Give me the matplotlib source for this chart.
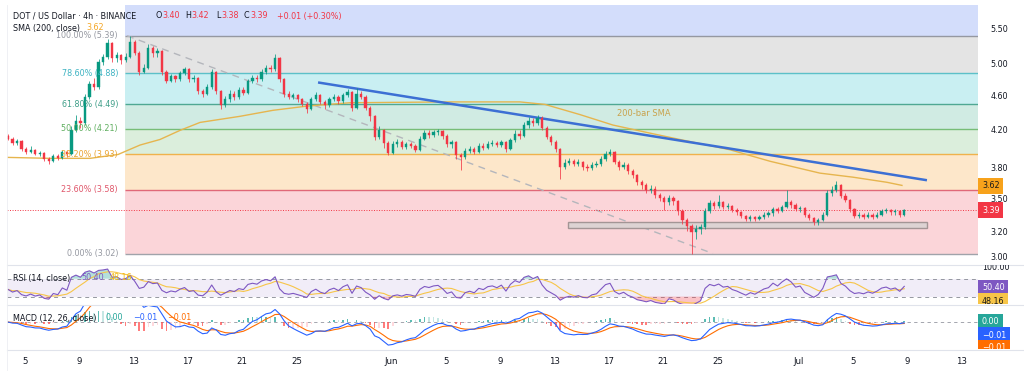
import numpy as np
import pandas as pd
import matplotlib
matplotlib.use("Agg")
import matplotlib.pyplot as plt
from matplotlib.patches import Rectangle
from matplotlib.lines import Line2D
from matplotlib.transforms import Bbox, TransformedBbox
from matplotlib.ticker import FixedLocator, FixedFormatter, NullLocator

plt.rcParams['font.family'] = ['DejaVu Sans']

W, H = 1024, 373

# ------------------------------------------------------------------ data
first_open = 4.13
closes = [4.10, 4.05, 4.07, 3.99, 3.96, 3.98, 3.94, 3.95, 3.88, 3.86,
          3.91, 3.89, 3.96, 3.93,
          4.20, 4.30, 4.27, 4.58, 4.74, 4.70, 5.02, 5.10, 5.28,
          5.08, 5.12, 5.05, 5.10, 5.30, 5.15, 4.90, 4.95,
          5.22, 5.15, 5.18, 4.90, 4.78, 4.84, 4.80, 4.88, 4.93,
          4.80, 4.82, 4.65, 4.62, 4.70, 4.90, 4.65, 4.48,
          4.55, 4.62, 4.58, 4.66, 4.63, 4.78, 4.82, 4.80, 4.90, 4.95, 4.93, 5.08,
          4.80, 4.62, 4.58, 4.60, 4.55, 4.50, 4.44,
          4.55, 4.60, 4.52, 4.48, 4.55, 4.58, 4.53, 4.60, 4.64, 4.45, 4.62, 4.58, 4.45, 4.35,
          4.12, 4.20, 4.05, 3.95, 4.04, 4.06, 4.01, 4.04, 4.02, 3.98,
          4.10, 4.16, 4.14, 4.17, 4.18, 4.13, 4.04, 4.06, 3.92, 3.90,
          3.97, 3.99, 3.96, 4.02, 4.00, 4.04, 4.05, 4.03, 4.06, 3.99,
          4.08, 4.15, 4.13, 4.25, 4.30, 4.27, 4.33, 4.22, 4.12, 4.06, 3.99,
          3.80, 3.84, 3.86, 3.83, 3.85, 3.80, 3.79, 3.82, 3.83, 3.88, 3.94, 3.96,
          3.85, 3.80, 3.82, 3.76, 3.72, 3.65, 3.62, 3.58, 3.59, 3.53, 3.50, 3.46,
          3.50, 3.47, 3.38, 3.30, 3.25, 3.20, 3.22, 3.24,
          3.38, 3.45, 3.43, 3.46, 3.42, 3.43, 3.39, 3.37, 3.34, 3.31, 3.33, 3.31, 3.33, 3.35, 3.36,
          3.40, 3.38, 3.42, 3.46, 3.44, 3.40, 3.41, 3.35, 3.32, 3.28, 3.30, 3.35,
          3.55, 3.58, 3.62, 3.52, 3.48, 3.40, 3.34, 3.35, 3.33, 3.35, 3.33, 3.35, 3.38, 3.39,
          3.37, 3.38, 3.35, 3.39]
highs = [4.15, 4.12, 4.09, 4.08, 4.01, 4.02, 3.99, 3.97, 3.96, 3.90,
         3.93, 3.94, 3.98, 3.97,
         4.24, 4.36, 4.34, 4.62, 4.78, 4.82, 5.06, 5.14, 5.34,
         5.30, 5.16, 5.14, 5.15, 5.39, 5.33, 5.17, 5.00,
         5.27, 5.24, 5.21, 5.19, 4.92, 4.87, 4.86, 4.91, 4.96,
         4.95, 4.86, 4.83, 4.68, 4.74, 4.93, 4.91, 4.67,
         4.59, 4.66, 4.65, 4.70, 4.70, 4.81, 4.86, 4.86, 4.94, 4.99, 4.99, 5.13,
         5.10, 4.82, 4.65, 4.63, 4.62, 4.57, 4.52,
         4.58, 4.64, 4.61, 4.54, 4.58, 4.61, 4.60, 4.63, 4.68, 4.65, 4.69, 4.65, 4.60, 4.47,
         4.36, 4.24, 4.21, 4.07, 4.07, 4.09, 4.08, 4.06, 4.06, 4.04,
         4.13, 4.20, 4.19, 4.20, 4.21, 4.20, 4.15, 4.08, 4.07, 3.95,
         4.00, 4.02, 4.01, 4.05, 4.05, 4.07, 4.08, 4.07, 4.08, 4.07,
         4.11, 4.19, 4.20, 4.28, 4.34, 4.33, 4.36, 4.35, 4.24, 4.14, 4.08,
         4.00, 3.88, 3.89, 3.88, 3.88, 3.86, 3.83, 3.85, 3.86, 3.91, 3.97, 3.99,
         3.97, 3.87, 3.85, 3.84, 3.78, 3.73, 3.67, 3.64, 3.62, 3.61, 3.55, 3.52,
         3.53, 3.52, 3.48, 3.40, 3.32, 3.27, 3.26, 3.27,
         3.41, 3.48, 3.47, 3.53, 3.47, 3.45, 3.44, 3.41, 3.38, 3.35, 3.35, 3.34, 3.35, 3.37, 3.38,
         3.42, 3.42, 3.44, 3.58, 3.48, 3.45, 3.43, 3.42, 3.36, 3.33, 3.32, 3.37,
         3.58, 3.61, 3.66, 3.63, 3.55, 3.49, 3.41, 3.37, 3.36, 3.37, 3.36, 3.37, 3.40, 3.41,
         3.40, 3.40, 3.39, 3.40]
lows = [4.08, 4.03, 4.03, 3.97, 3.94, 3.95, 3.92, 3.91, 3.86, 3.83,
        3.85, 3.87, 3.88, 3.90,
        3.92, 4.17, 4.22, 4.25, 4.55, 4.66, 4.68, 4.98, 5.06,
        5.03, 5.02, 5.00, 5.02, 5.08, 5.12, 4.86, 4.88,
        4.93, 5.10, 5.10, 4.86, 4.75, 4.76, 4.76, 4.78, 4.85,
        4.77, 4.76, 4.62, 4.58, 4.60, 4.68, 4.62, 4.43,
        4.46, 4.52, 4.54, 4.56, 4.60, 4.61, 4.75, 4.76, 4.78, 4.87, 4.89, 4.91,
        4.76, 4.58, 4.55, 4.55, 4.52, 4.47, 4.39,
        4.42, 4.53, 4.49, 4.44, 4.46, 4.53, 4.50, 4.51, 4.58, 4.41, 4.44, 4.55, 4.42, 4.30,
        4.08, 4.10, 4.00, 3.92, 3.94, 4.01, 3.99, 3.99, 4.00, 3.96,
        3.97, 4.08, 4.11, 4.12, 4.14, 4.10, 4.01, 4.00, 3.88, 3.77,
        3.88, 3.95, 3.93, 3.95, 3.98, 3.99, 4.02, 4.01, 4.01, 3.96,
        3.98, 4.06, 4.10, 4.12, 4.22, 4.24, 4.25, 4.19, 4.09, 4.03, 3.96,
        3.68, 3.78, 3.82, 3.81, 3.81, 3.77, 3.76, 3.77, 3.80, 3.81, 3.86, 3.91,
        3.83, 3.77, 3.78, 3.73, 3.69, 3.62, 3.59, 3.55, 3.55, 3.50, 3.47, 3.39,
        3.44, 3.44, 3.35, 3.27, 3.21, 3.02, 3.14, 3.18,
        3.22, 3.36, 3.40, 3.41, 3.40, 3.40, 3.37, 3.35, 3.32, 3.29, 3.29, 3.29, 3.30, 3.31, 3.33,
        3.34, 3.36, 3.37, 3.41, 3.41, 3.38, 3.37, 3.33, 3.30, 3.26, 3.26, 3.29,
        3.34, 3.52, 3.56, 3.50, 3.46, 3.37, 3.32, 3.32, 3.31, 3.32, 3.31, 3.32, 3.34, 3.36,
        3.35, 3.35, 3.33, 3.34]
bar_start_day = 2.75          # days after 1 May (May 5 = 4)
bar_step_day = 1.0 / 3.0

sma_days = [2.67, 5.84, 8.79, 10.85, 12.47, 13.94, 15.41, 16.89, 19.83, 22.26,
            24.77, 27.93, 35.30, 40.45, 42.29, 44.87, 47.30, 50.02, 52.23, 55.91,
            58.86, 62.54, 64.97, 67.47, 68.58]
sma_vals = [3.90, 3.89, 3.89, 3.93, 4.03, 4.09, 4.19, 4.28, 4.35, 4.42,
            4.47, 4.51, 4.52, 4.52, 4.49, 4.37, 4.25, 4.16, 4.09, 3.98,
            3.86, 3.74, 3.70, 3.65, 3.62]

fib_labels = ["100.00%", "78.60%", "61.80%", "50.00%", "38.20%", "23.60%", "0.00%"]
fib_vals = [5.39, 4.88, 4.49, 4.21, 3.93, 3.58, 3.02]
fib_start_day = 11.36

trend_days = [25.58, 70.42]
trend_vals = [4.76, 3.67]
fib_diag_days = [11.51, 54.66]
fib_diag_vals = [5.39, 3.02]
support_days = [44.0, 70.42]
support_vals = [3.23, 3.28]

last_price = 3.39
sma_last = 3.62
rsi_last, rsi_ma_last = 50.40, 48.16
hist_last, macd_last, signal_last = 0.00, -0.01, -0.01

price_ticks = [5.50, 5.00, 4.60, 4.20, 3.80, 3.50, 3.20, 3.00]
date_tick_days = [4, 8, 12, 16, 20, 24, 31, 35, 39, 43, 47, 51, 55, 61, 65, 69, 73]
date_tick_labels = ["5", "9", "13", "17", "21", "25", "Jun", "5", "9", "13",
                    "17", "21", "25", "Jul", "5", "9", "13"]

# ------------------------------------------------------------------ styles
UP, DN = '#089981', '#f23645'
TXT = '#131722'
FS = 5.8
band_colors = ['#d3ddfb', '#e4e4e4', '#c9eff2', '#d0ebe3', '#dbeedc', '#fde7ca', '#fbd5d9']
fib_line_colors = ['#9598a1', '#5cc0c8', '#4fa893', '#77bd77', '#efb24c', '#e06878', '#a0a3aa']
fib_text_colors = ['#9598a1', '#3db3c2', '#3f9e88', '#5fae5f', '#eaa32f', '#e0566a', '#9598a1']

fig = plt.figure(figsize=(W / 100, H / 100), dpi=100)
fig.patch.set_facecolor('white')


def rect(x0, y0, x1, y1):
    return [x0 / W, 1 - y1 / H, (x1 - x0) / W, (y1 - y0) / H]


ax = fig.add_axes(rect(7, 5, 978, 264))
axr = fig.add_axes(rect(7, 265, 978, 304), sharex=ax)
axm = fig.add_axes(rect(7, 305, 978, 349), sharex=ax)
for a in (ax, axr, axm):
    for s in a.spines.values():
        s.set_visible(False)
    a.tick_params(length=0)

x_lo, x_hi = 2.675, 74.18
ax.set_xlim(x_lo, x_hi)
ax.set_yscale('log')
y_lo, y_hi = 2.937, 5.849
ax.set_ylim(y_lo, y_hi)

# ---- fib bands
edges = [y_hi * 1.2] + fib_vals
for k in range(7):
    ax.fill_between([fib_start_day, x_hi], edges[k + 1], edges[k],
                    color=band_colors[k], lw=0, zorder=0)
for k, v in enumerate(fib_vals):
    ax.hlines(v, fib_start_day, x_hi, color=fib_line_colors[k], lw=1.0, zorder=1)
    ax.text(10.85, v, f"{fib_labels[k]} ({v:.2f})", ha='right', va='center',
            fontsize=FS, color=fib_text_colors[k], zorder=6)

# ---- diagonal fib trend (dashed)
ax.plot(fib_diag_days, fib_diag_vals, color='#b4b6bc', lw=1.0, ls=(0, (5, 4)), zorder=2)

# ---- current price dotted line
ax.axhline(last_price, color=DN, lw=0.7, ls=(0, (1, 1.6)), zorder=2)

# ---- support box
ax.add_patch(Rectangle((support_days[0], support_vals[0]),
                       support_days[1] - support_days[0],
                       support_vals[1] - support_vals[0],
                       facecolor='#ddd3d3', edgecolor='#a39595', lw=1.0, zorder=3))

# ---- SMA and trendline
ax.plot(sma_days, sma_vals, color='#e6b54e', lw=1.0, zorder=3)
ax.text(47.59, 4.377, "200-bar SMA", fontsize=6, color='#c9a24c', ha='left', va='center', zorder=6)
ax.plot(trend_days, trend_vals, color='#3c6fd4', lw=1.8, zorder=4, solid_capstyle='butt')

# ---- candles
c = np.array(closes)
hi = np.array(highs)
lo = np.array(lows)
o = np.concatenate([[first_open], c[:-1]])
hi = np.maximum(hi, np.maximum(o, c))
lo = np.minimum(lo, np.minimum(o, c))
t = bar_start_day + np.arange(len(c)) * bar_step_day
col = np.where(c >= o, UP, DN)
ax.vlines(t, lo, hi, colors=col, lw=0.55, zorder=5)
b_lo = np.minimum(o, c)
b_hi = np.maximum(o, c)
ax.bar(t, b_hi - b_lo, bottom=b_lo, width=bar_step_day * 0.5, color=col,
       edgecolor=col, lw=0.3, zorder=5)

# ---- price axis
ax.yaxis.tick_right()
ax.yaxis.set_major_locator(FixedLocator(price_ticks))
ax.yaxis.set_major_formatter(FixedFormatter([f"{v:.2f}" for v in price_ticks]))
ax.yaxis.set_minor_locator(NullLocator())
ax.tick_params(axis='y', pad=9, labelsize=FS, labelcolor=TXT, length=0)
ax.tick_params(axis='x', labelbottom=False)

# ------------------------------------------------------------------ RSI
n_rsi = 7
delta = np.diff(np.concatenate([[first_open], c]))
gain = np.clip(delta, 0, None)
loss = np.clip(-delta, 0, None)
ag_arr = np.empty_like(c)
al_arr = np.empty_like(c)
ag, al = 0.03, 0.03
for k in range(len(c)):
    ag = (ag * (n_rsi - 1) + gain[k]) / n_rsi
    al = (al * (n_rsi - 1) + loss[k]) / n_rsi
    ag_arr[k], al_arr[k] = ag, al
rsi = 100 - 100 / (1 + ag_arr / np.maximum(al_arr, 1e-9))
rsi_ma = pd.Series(rsi).rolling(7, min_periods=1).mean().values

axr.set_ylim(13.5, 100.8)
axr.axhspan(30, 70, color='#7e57c2', alpha=0.10, lw=0, zorder=0)
for lvl in (70, 30):
    axr.axhline(lvl, color='#9598a1', lw=0.7, ls=(0, (4, 4)), zorder=1)
axr.fill_between(t, rsi, 70, where=rsi >= 70, interpolate=True, color='#26a69a', alpha=0.35, lw=0)
axr.fill_between(t, rsi, 30, where=rsi <= 30, interpolate=True, color='#f23645', alpha=0.30, lw=0)
axr.plot(t, rsi_ma, color='#f7c548', lw=0.8, zorder=2)
axr.plot(t, rsi, color='#7e57c2', lw=0.8, zorder=3)
axr.set_yticks([])
axr.tick_params(axis='x', labelbottom=False)

# ------------------------------------------------------------------ MACD
cs = pd.Series(c)
macd = (cs.ewm(span=6, adjust=False).mean() - cs.ewm(span=13, adjust=False).mean()).values
sig = pd.Series(macd).ewm(span=5, adjust=False).mean().values
hist = macd - sig
hcol = []
for k in range(len(hist)):
    prev = hist[k - 1] if k > 0 else 0.0
    if hist[k] >= 0:
        hcol.append('#26a69a' if hist[k] >= prev else '#b2dfdb')
    else:
        hcol.append('#ffcdd2' if hist[k] > prev else '#ff5252')
mmin = macd.min()
axm.set_ylim(mmin * 1.17, -mmin * 0.74)
axm.axhline(0, color='#9598a1', lw=0.6, ls=(0, (4, 4)), zorder=1)
axm.bar(t, hist, width=bar_step_day * 0.35, color=hcol, alpha=0.75, zorder=2)
axm.plot(t, sig, color='#ff6d00', lw=0.8, zorder=3)
axm.plot(t, macd, color='#2962ff', lw=0.8, zorder=4)
axm.set_yticks([])
axm.set_xticks(date_tick_days)
axm.set_xticklabels(date_tick_labels)
axm.tick_params(axis='x', pad=6, labelsize=6.2, labelcolor=TXT, length=0)
axm.set_xlim(x_lo, x_hi)

# ------------------------------------------------------------------ separators
for yy in (264.5, 304.5, 349.5):
    fig.add_artist(Line2D([7 / W, 1], [1 - yy / H] * 2, transform=fig.transFigure,
                          color='#e0e3eb', lw=0.8))
fig.add_artist(Line2D([7 / W] * 2, [1 - 5 / H, 1 - 370 / H], transform=fig.transFigure,
                      color='#eceef2', lw=0.6))


# ------------------------------------------------------------------ texts
def ftext(x, y, s, color=TXT, size=FS, **kw):
    return fig.text(x / W, 1 - y / H, s, color=color, fontsize=size, ha='left', va='center', **kw)


ftext(13, 16, "DOT / US Dollar · 4h · BINANCE")
ftext(155, 16, "O")
ftext(162, 16, "3.40", DN)
ftext(185, 16, "H")
ftext(191, 16, "3.42", DN)
ftext(216, 16, "L")
ftext(221, 16, "3.38", DN)
ftext(244, 16, "C")
ftext(250, 16, "3.39", DN)
ftext(277, 16, "+0.01 (+0.30%)", DN)
ftext(13, 28, "SMA (200, close)")
ftext(86, 28, f"{sma_last:.2f}", '#f5a623')

ftext(13, 278, "RSI (14, close)")
ftext(81, 278, f"{rsi_last:.2f}", '#7e57c2')
ftext(110, 278, f"{rsi_ma_last:.2f}", '#f2b90f')

ftext(13, 318, "MACD (12, 26, close)")
ftext(106, 318, f"{hist_last:.2f}", '#26a69a')
ftext(133, 318, f"−{abs(macd_last):.2f}", '#2962ff')
ftext(167, 318, f"−{abs(signal_last):.2f}", '#ff6d00')


def clipbox(y0, y1):
    return TransformedBbox(Bbox.from_extents(0, 1 - y1 / H, 1, 1 - y0 / H), fig.transFigure)


def side_box(y, s, fc, tc, clip):
    tx = fig.text(982 / W, 1 - y / H, s, fontsize=FS, color=tc, ha='left', va='center',
                  bbox=dict(boxstyle='square,pad=0.45', fc=fc, ec='none'))
    tx.set_clip_box(clip)
    tx.set_clip_on(True)
    return tx


main_clip = clipbox(5, 264)
rsi_clip = clipbox(265, 304)
macd_clip = clipbox(305, 349)
side_box(186, f"{sma_last:.2f}", '#f7a21b', '#1a1a1a', main_clip)
side_box(210, f"{last_price:.2f}", DN, 'white', main_clip)
t100 = fig.text(982 / W, 1 - 267 / H, "100.00", fontsize=FS, color=TXT, ha='left', va='center')
t100.set_clip_box(rsi_clip)
t100.set_clip_on(True)
side_box(288, f"{rsi_last:.2f}", '#7e57c2', 'white', rsi_clip)
side_box(301, f"{rsi_ma_last:.2f}", '#f7c548', '#1a1a1a', rsi_clip)
side_box(322, f"{hist_last:.2f}", '#26a69a', 'white', macd_clip)
side_box(335, f"−{abs(macd_last):.2f}", '#2962ff', 'white', macd_clip)
side_box(348, f"−{abs(signal_last):.2f}", '#ff6d00', 'white', macd_clip)

fig.savefig("out.png", dpi=100, facecolor='white')
